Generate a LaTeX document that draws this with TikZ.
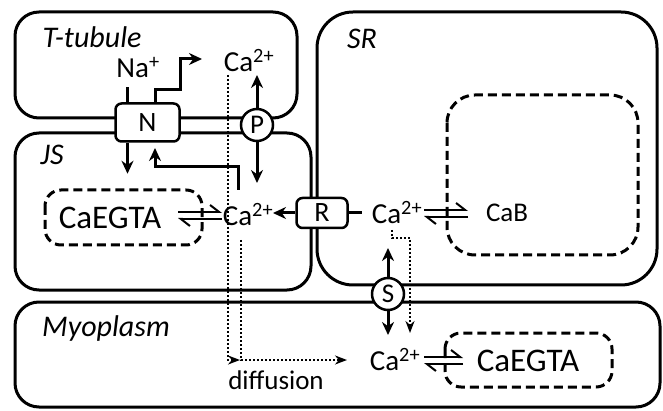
\documentclass[tikz,border=0pt]{standalone}
\usepackage{fontspec}
\setmainfont{Carlito}
\usetikzlibrary{arrows.meta}

\tikzset{
  memb/.style={line width=3pt, rounded corners=24pt},
  buf/.style={line width=3pt, dash pattern=on 9pt off 5pt, rounded corners=16pt},
  chan/.style={draw, line width=2.5pt, rounded corners=6pt, fill=white, minimum width=64pt, minimum height=38pt, inner sep=0pt, font=\fontsize{28}{30}\selectfont},
  pore/.style={draw, circle, line width=2.5pt, fill=white, minimum size=32pt, inner sep=0pt, font=\fontsize{27}{30}\selectfont},
  flux/.style={line width=3pt, -{Stealth[length=13pt, width=12pt]}},
  diff/.style={line width=2pt, dash pattern=on 2pt off 2pt, -{Stealth[length=12pt, width=9pt]}},
  eq/.style={line width=2pt, -{Straight Barb[left, length=9pt, width=14pt]}},
  txt/.style={font=\fontsize{29}{32}\selectfont, inner sep=0pt},
  small/.style={font=\fontsize{27}{30}\selectfont, inner sep=0pt},
  big/.style={font=\fontsize{33}{36}\selectfont, inner sep=0pt},
  comp/.style={font=\fontsize{30}{32}\selectfont\itshape, inner sep=0pt}
}

\begin{document}
\begin{tikzpicture}[x=1pt, y=-1pt]
		\useasboundingbox (0,0) rectangle (663,411);
		
		% compartments
		\draw[memb] (15,12) rectangle (297,118);
		\draw[memb] (15,133) rectangle (311,290);
		\draw[memb, rounded corners=36pt] (317,12) rectangle (657,285);
		\draw[memb] (15,302) rectangle (660,407);
		
		\node[comp] (ttlab) at (92,37) {T-tubule};
		\node[comp] (jslab) at (52,155) {JS};
		\node[comp] (srlab) at (362,39) {SR};
		\node[comp] (myolab) at (106,329) {Myoplasm};
		
		% buffers
		\draw[buf] (45,190) rectangle (202,245);
		\draw[buf, rounded corners=28pt] (447,95) rectangle (638,255);
		\draw[buf] (445,333) rectangle (612,387);
		
		% ions
		\node[txt] (na) at (138,68) {Na\textsuperscript{+}};
		\node[txt] (tca) at (249,61) {Ca\textsuperscript{2+}};
		\node[big] (jsegta) at (110,218) {CaEGTA};
		\node[txt] (jsca) at (248,215) {Ca\textsuperscript{2+}};
		\node[txt] (srca) at (397,213) {Ca\textsuperscript{2+}};
		\node[small] (cab) at (507,213) {CaB};
		\node[txt] (myca) at (395,360) {Ca\textsuperscript{2+}};
		\node[big] (myegta) at (528,361) {CaEGTA};
		\node[small] (difflab) at (276,380) {diffusion};
		
		% diffusion paths
		\draw[diff] (228,75) -- (228,360) -- (240,360);
		\draw[diff] (241,240) |- (347,360);
		\draw[diff] (392,230) |- (410,238) -- (410,333);
		
		% channels
		\node[chan] (N) at (147.5,122.5) {N};
		\node[pore] (P) at (257,125) {P};
		\node[chan, minimum width=51pt, minimum height=30pt] (R) at (322,213) {R};
		\node[pore] (S) at (388,294) {S};
		
		% fluxes
		\draw[line width=3pt] ([xshift=-20pt]N.north) -- ++(0,-15);
		\draw[flux] ([xshift=-20pt]N.south) -- ++(0,31);
		\draw[flux] ([xshift=7.5pt]N.north) |- (180,90) |- (202,59);
		\draw[flux] (238,190) |- (155,167) -- (155,148);
		\draw[flux] (P.north) -- (257,75);
		\draw[flux] (P.south) -- (257,183);
		\draw[flux] (R.west) -- (273,213);
		\draw[line width=3pt] (R.east) -- (362,213);
		\draw[flux] (S.north) -- (388,248);
		\draw[flux] (S.south) -- (388,335);
		
		% equilibria
		\draw[eq] (178,212) -- (222,212);
		\draw[eq] (222,219) -- (178,219);
		\draw[eq] (424,210) -- (468,210);
		\draw[eq] (468,217) -- (424,217);
		\draw[eq] (424,357) -- (463,357);
		\draw[eq] (463,364) -- (424,364);
	\end{tikzpicture}
\end{document}
